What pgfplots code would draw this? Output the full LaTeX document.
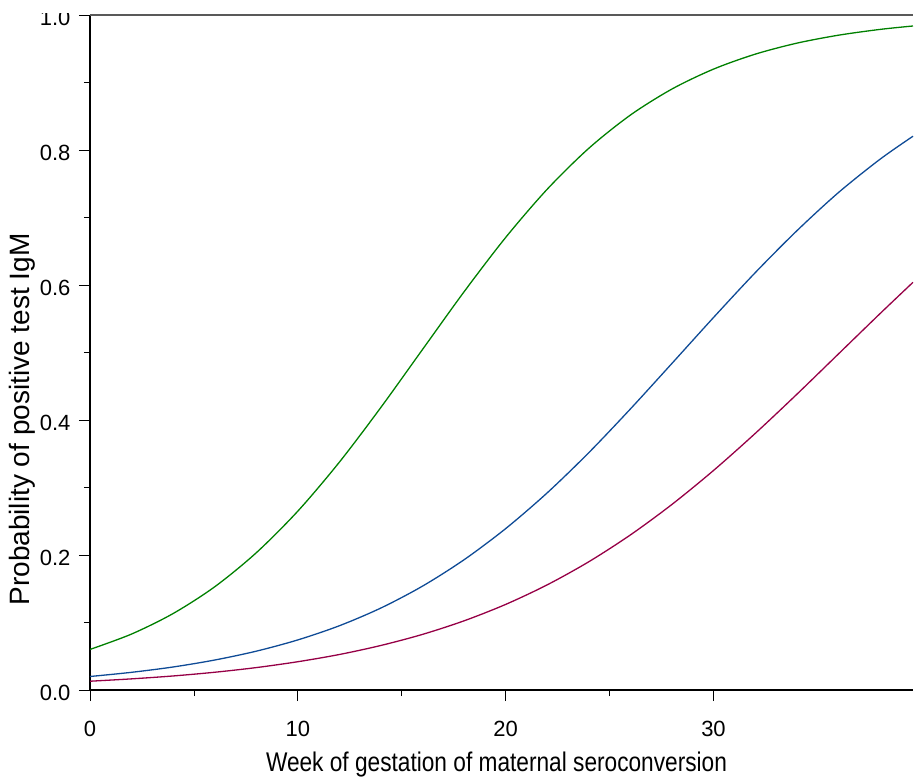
\documentclass[border=0pt]{standalone}
\usepackage{pgfplots}
\pgfplotsset{compat=1.18}
\usepackage{fontspec}
\setmainfont{Liberation Sans}
\definecolor{cgreen}{RGB}{0,128,0}
\definecolor{cblue}{RGB}{15,75,150}
\definecolor{cred}{RGB}{150,0,70}
\begin{document}
\begin{tikzpicture}
\begin{axis}[
  scale only axis,
  width=823pt, height=675pt,
  xmin=0, xmax=39.6, ymin=0, ymax=1,
  axis lines*=left,
  axis line style={black, line width=1.5pt},
  xtick={0,10,20,30}, ytick={0,0.2,0.4,0.6,0.8,1.0},
  minor x tick num=1, minor y tick num=1,
  tick align=outside,
  major tick length=11pt, minor tick length=6pt,
  tick style={black, line width=0.8pt},
  /pgf/number format/assume math mode=true,
  yticklabel style={/pgf/number format/fixed, /pgf/number format/fixed zerofill, /pgf/number format/precision=1, xshift=-5pt, yshift=-3pt},
  ticklabel style={font=\fontsize{22}{26}\selectfont},
  xticklabel style={yshift=-17pt},
  xlabel={\scalebox{0.84}[1]{Week of gestation of maternal seroconversion}},
  ylabel={Probability of positive test IgM},
  xlabel style={font=\fontsize{27}{30}\selectfont, at={(axis description cs:0.5,0)}, anchor=base, yshift=-81pt, xshift=-5pt},
  ylabel style={font=\fontsize{28}{32}\selectfont, at={(axis description cs:-0.0729,0.4007)}, anchor=base},
  clip=false,
]
\addplot[cgreen, line width=1.3pt, smooth] coordinates {
(0,0.0601) (2,0.0829) (4,0.1133) (6,0.1529) (8,0.2033) (10,0.2650) (12,0.3376) (14,0.4188) (16,0.5045) (18,0.5900) (20,0.6704) (22,0.7419) (24,0.8025) (26,0.8517) (28,0.8903) (30,0.9198) (32,0.9419) (34,0.9582) (36,0.9700) (38,0.9786) (39.6,0.9837)};
\addplot[cblue, line width=1.3pt, smooth] coordinates {
(0,0.0200) (2,0.0262) (4,0.0341) (6,0.0444) (8,0.0575) (10,0.0742) (12,0.0952) (14,0.1215) (16,0.1539) (18,0.1930) (20,0.2391) (22,0.2921) (24,0.3516) (26,0.4163) (28,0.4838) (30,0.5518) (32,0.6180) (34,0.6800) (36,0.7366) (38,0.7860) (39.6,0.8204)};
\addplot[cred, line width=1.3pt, smooth] coordinates {
(0,0.0130) (2,0.0165) (4,0.0208) (6,0.0263) (8,0.0332) (10,0.0419) (12,0.0526) (14,0.0660) (16,0.0824) (18,0.1025) (20,0.1268) (22,0.1558) (24,0.1900) (26,0.2297) (28,0.2749) (30,0.3252) (32,0.3799) (34,0.4378) (36,0.4975) (38,0.5572) (39.6,0.6040)};
\draw[gray!70!black, line width=1.1pt] (rel axis cs:0,1) -- (rel axis cs:1,1);
\end{axis}
\fill[white] ([xshift=-90pt,yshift=15pt]current axis.north west) rectangle ([xshift=-3pt,yshift=2pt]current axis.north west);
\pgfresetboundingbox
\path[use as bounding box] ([xshift=-90pt,yshift=-88pt]current axis.south west) rectangle ([xshift=1pt,yshift=15pt]current axis.north east);
\end{tikzpicture}
\end{document}
